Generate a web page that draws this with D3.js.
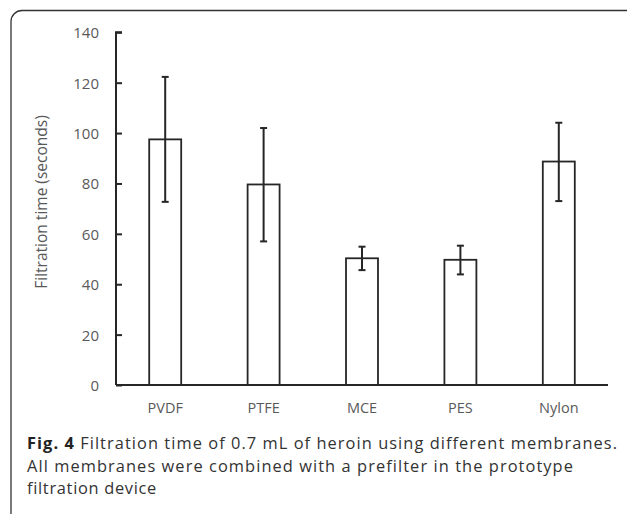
<!DOCTYPE html>
<html>
<head>
<meta charset="utf-8">
<script src="https://cdn.jsdelivr.net/npm/d3@7"></script>
<style>
  html, body { margin: 0; padding: 0; background: #fff; }
  svg { display: block; }
</style>
</head>
<body>
<svg id="chart" width="627" height="514"></svg>
<script>
const categories = ["PVDF", "PTFE", "MCE", "PES", "Nylon"];
const meanValues = [97.5, 79.6, 50.3, 49.7, 88.7];
const errLow = [72.7, 57.0, 45.6, 43.9, 73.0];
const errHigh = [122.3, 102.0, 54.9, 55.3, 104.1];
const yTicks = [0, 20, 40, 60, 80, 100, 120, 140];
const yTitle = "Filtration time (seconds)";
const captionBold = "Fig. 4";
const captionLines = [
  " Filtration time of 0.7 mL of heroin using different membranes.",
  "All membranes were combined with a prefilter in the prototype",
  "filtration device"
];

const svg = d3.select("#chart");
const font = "'Open Sans', 'Noto Sans', sans-serif";
const ink = "#262626";
const grey = "#595959";

// Frame
svg.append("rect")
  .attr("x", 11).attr("y", 10.5)
  .attr("width", 640).attr("height", 520)
  .attr("rx", 11).attr("ry", 11)
  .attr("fill", "none").attr("stroke", "#333").attr("stroke-width", 1.3);

const pLeft = 116, pRight = 608, pTop = 32.3, pBottom = 385;

const x = d3.scaleBand().domain(categories).range([pLeft, pRight])
  .paddingInner(0.675).paddingOuter(0.3375);
const y = d3.scaleLinear().domain([0, 140]).range([pBottom, pTop]);

// Bars
svg.append("g").selectAll("rect").data(categories).join("rect")
  .attr("x", d => x(d))
  .attr("y", (d, i) => y(meanValues[i]))
  .attr("width", x.bandwidth())
  .attr("height", (d, i) => y(0) - y(meanValues[i]))
  .attr("fill", "#fff").attr("stroke", ink).attr("stroke-width", 1.8);

// Error bars
const eg = svg.append("g").attr("stroke", ink).attr("stroke-width", 2);
categories.forEach((c, i) => {
  const cx = x(c) + x.bandwidth() / 2;
  eg.append("line").attr("x1", cx).attr("x2", cx)
    .attr("y1", y(errLow[i])).attr("y2", y(errHigh[i]));
  [errLow[i], errHigh[i]].forEach(v => {
    eg.append("line").attr("x1", cx - 3.5).attr("x2", cx + 3.5)
      .attr("y1", y(v)).attr("y2", y(v));
  });
});

// Y axis
const yAxis = d3.axisRight(y).tickValues(yTicks).tickSize(6).tickFormat(d3.format("d"));
const ya = svg.append("g").attr("transform", `translate(${pLeft},0)`).call(yAxis);
ya.select(".domain").attr("d", `M6,${pTop}H0V${pBottom}`).attr("stroke", ink).attr("stroke-width", 2);
ya.selectAll(".tick line").attr("stroke", ink).attr("stroke-width", 2);
ya.selectAll(".tick text")
  .attr("x", -17).attr("text-anchor", "end").attr("dy", "0.36em")
  .attr("fill", grey).style("font-family", font).style("font-size", "15px");

// X axis
const xAxis = d3.axisBottom(x).tickSize(0).tickPadding(0);
const xa = svg.append("g").attr("transform", `translate(0,${pBottom})`).call(xAxis);
xa.select(".domain").attr("d", `M${pLeft},0H${pRight}`).attr("stroke", ink).attr("stroke-width", 2);
xa.selectAll(".tick text")
  .attr("y", 28).attr("dy", 0)
  .attr("fill", grey).style("font-family", font).style("font-size", "14.5px");

// Y title
svg.append("text")
  .attr("transform", `translate(46.5,202) rotate(-90)`)
  .attr("text-anchor", "middle")
  .attr("fill", grey).style("font-family", font).style("font-size", "15.5px")
  .text(yTitle);

// Caption: three lines, widths stretched to match the reference block
const capSize = 16.4;
const capTargets = [591, 547, 130];
const capBaselines = [449, 471.5, 494];
function fitSpacing(sel, target) {
  const natural = sel.node().getComputedTextLength();
  const n = sel.text().length;
  sel.style("letter-spacing", ((target - natural) / n) + "px");
}
const line1 = svg.append("text").attr("x", 27).attr("y", capBaselines[0])
  .style("font-family", font).style("font-size", capSize + "px").attr("fill", "#333");
line1.append("tspan").attr("font-weight", "bold").attr("fill", "#222").text(captionBold);
line1.append("tspan").text(captionLines[0]);
fitSpacing(line1, capTargets[0]);
[1, 2].forEach(k => {
  const t = svg.append("text").attr("x", 27).attr("y", capBaselines[k])
    .style("font-family", font).style("font-size", capSize + "px").attr("fill", "#333")
    .text(captionLines[k]);
  fitSpacing(t, capTargets[k]);
});
</script>
</body>
</html>
